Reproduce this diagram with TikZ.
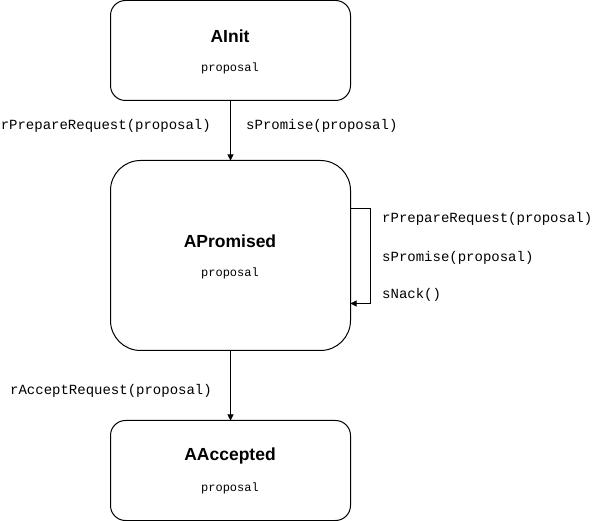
\documentclass[tikz,border=0pt]{standalone}
\usepackage{fontspec}
\setmainfont{Liberation Sans}
\setmonofont{Liberation Mono}
\usetikzlibrary{arrows.meta}
\begin{document}
\begin{tikzpicture}[x=1pt,y=-1pt,
  statebox/.style={draw=black, line width=1pt},
  title/.style={font=\fontsize{17.5}{20}\selectfont\bfseries, inner sep=0pt, anchor=center},
  sub/.style={font=\fontsize{12}{14}\selectfont\ttfamily, inner sep=0pt, anchor=center},
  lbl/.style={font=\fontsize{14}{16}\selectfont\ttfamily, inner sep=0pt},
  conn/.style={draw=black, line width=1pt, -{Triangle[length=6pt,width=6pt]}}]
\useasboundingbox (0,0) rectangle (611,521);
% states
\draw[statebox, rounded corners=15pt] (110.5,0.5) rectangle (350.5,100.5);
\coordinate (initS) at (230.5,100.5);
\draw[statebox, rounded corners=30pt] (110.5,160.5) rectangle (350.5,350.5);
\coordinate (promN) at (230.5,160.5);
\coordinate (promS) at (230.5,350.5);
\coordinate (promE1) at (350.5,208.5);
\coordinate (promE2) at (350.5,303.5);
\coordinate (loopA) at (370.5,208.5);
\coordinate (loopB) at (370.5,303.5);
\draw[statebox, rounded corners=15pt] (110.5,420.5) rectangle (350.5,520.5);
\coordinate (accN) at (230.5,420.5);
% texts
\node[title] (t1) at (230,36) {AInit};
\node[sub] (s1) at (230,68) {proposal};
\node[title] (t2) at (230,241) {APromised};
\node[sub] (s2) at (230,273) {proposal};
\node[title] (t3) at (230,456) {AAccepted};
\node[sub] (s3) at (230,488) {proposal};
% connectors
\draw[conn] (initS) -- (promN);
\draw[conn] (promS) -- (accN);
\draw[conn] (promE1) -- (loopA) -- (loopB) -- (promE2);
% labels
\node[lbl, anchor=east] (l1) at (211,126) {rPrepareRequest(proposal)};
\node[lbl, anchor=west] (l2) at (246,126) {sPromise(proposal)};
\node[lbl, anchor=west] (l3) at (382,219) {rPrepareRequest(proposal)};
\node[lbl, anchor=west] (l4) at (382,258) {sPromise(proposal)};
\node[lbl, anchor=west] (l5) at (382,295) {sNack()};
\node[lbl, anchor=east] (l6) at (212,391) {rAcceptRequest(proposal)};
\end{tikzpicture}
\end{document}
